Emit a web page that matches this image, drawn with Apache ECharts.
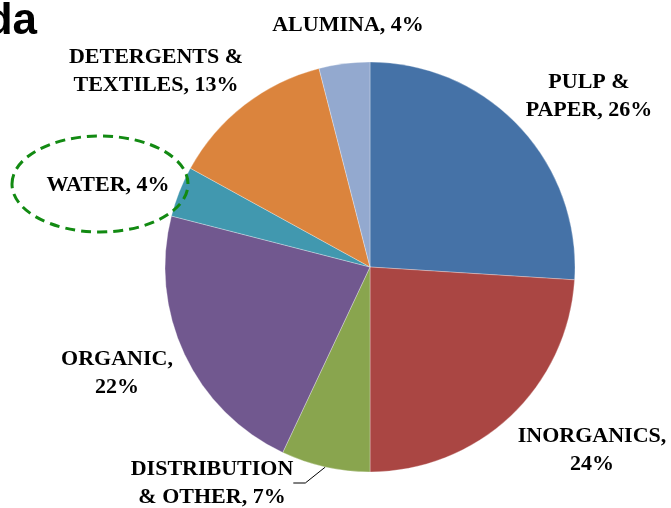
<!DOCTYPE html>
<html>
<head>
<meta charset="utf-8">
<script src="https://cdn.jsdelivr.net/npm/echarts@6/dist/echarts.min.js"></script>
<style>
html, body { margin: 0; padding: 0; background: #fff; }
#main { width: 671px; height: 508px; }
</style>
</head>
<body>
<div id="main"></div>
<script>
var chart = echarts.init(document.getElementById('main'));

// shares by sector, clockwise from 12 o'clock
var sectors = ['PULP &\nPAPER', 'INORGANICS', 'DISTRIBUTION\n& OTHER', 'ORGANIC', 'WATER', 'DETERGENTS &\nTEXTILES', 'ALUMINA'];
var shares = [26, 24, 7, 22, 4, 13, 4];
var separators = [', ', ',\n', ', ', ',\n', ', ', ', ', ', '];
var colors = ['#4572a7', '#aa4643', '#89a54e', '#71588f', '#4198af', '#db843d', '#93a9cf'];

// where each label sits (centre of its text box)
var labelPos = [[589, 96], [592, 450], [212, 483], [117, 373], [108, 185], [156, 71], [348, 25]];

var pieData = [];
for (var i = 0; i < sectors.length; i++) {
    pieData.push({
        name: sectors[i],
        value: shares[i],
        itemStyle: { color: colors[i] },
        labelLine: { show: i === 2 }
    });
}

option = {
    animation: false,
    graphic: [
        {
            type: 'text',
            x: 37,
            y: 22,
            style: {
                text: 'da',
                font: 'bold 44px "Liberation Sans", Arial, sans-serif',
                fill: '#000',
                align: 'right',
                verticalAlign: 'middle'
            }
        },
        {
            type: 'ellipse',
            shape: { cx: 100, cy: 184, rx: 88, ry: 48 },
            style: {
                fill: 'none',
                stroke: '#128a12',
                lineWidth: 3,
                lineDash: [10, 6]
            },
            z: 10
        }
    ],
    series: [
        {
            type: 'pie',
            center: [370, 267],
            radius: 205,
            startAngle: 90,
            clockwise: true,
            data: pieData,
            itemStyle: {
                borderColor: 'rgba(255,255,255,0.6)',
                borderWidth: 0.5
            },
            label: {
                show: true,
                position: 'outside',
                overflow: 'none',
                formatter: function (p) {
                    return p.name + separators[p.dataIndex] + p.value + '%';
                },
                fontFamily: '"Liberation Serif", "Times New Roman", serif',
                fontWeight: 'bold',
                fontSize: 22,
                lineHeight: 28,
                color: '#000',
                align: 'center'
            },
            labelLine: {
                length: 14,
                length2: 12,
                lineStyle: { color: '#000', width: 1 }
            },
            labelLayout: function (params) {
                var p = labelPos[params.dataIndex];
                return {
                    x: p[0],
                    y: p[1],
                    align: 'center',
                    verticalAlign: 'middle'
                };
            }
        }
    ]
};

chart.setOption(option);
</script>
</body>
</html>
